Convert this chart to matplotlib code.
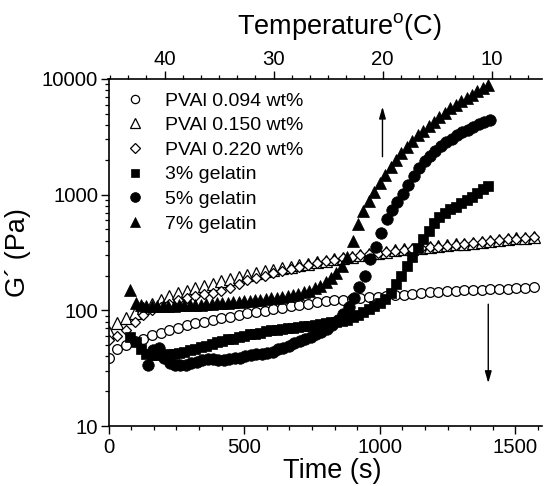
import matplotlib
matplotlib.use('Agg')
import matplotlib.pyplot as plt
from matplotlib.ticker import MultipleLocator, LogLocator, NullFormatter, FixedLocator, FixedFormatter

plt.rcParams['font.family'] = ['Liberation Sans', 'DejaVu Sans']
plt.rcParams['mathtext.fontset'] = 'custom'
plt.rcParams['mathtext.rm'] = 'Liberation Sans'

# ---------------- data ----------------
t_pva = [0, 32, 64, 96, 128, 160, 192, 224, 256, 288,
         320, 352, 384, 416, 448, 480, 512, 544, 576, 608,
         640, 672, 704, 736, 768, 800, 832, 864, 896, 928,
         960, 992, 1024, 1056, 1088, 1120, 1152, 1184, 1216, 1248,
         1280, 1312, 1344, 1376, 1408, 1440, 1472, 1504, 1536, 1568]

g_pva094 = [39, 46, 50, 54, 57, 61, 64, 67, 71, 74,
            77, 80, 82, 85, 88, 91, 95, 97, 99, 102,
            105, 108, 111, 114, 117, 120, 122, 124, 126, 128,
            130, 131, 133, 135, 137, 139, 141, 143, 145, 147,
            148, 149, 150, 151, 152, 153, 154, 155, 157, 158]

g_pva150 = [65, 77, 85, 95, 104, 114, 124, 133, 140, 148,
            155, 162, 170, 178, 186, 195, 203, 210, 217, 224,
            231, 238, 245, 252, 260, 268, 276, 284, 292, 300,
            307, 315, 322, 330, 336, 342, 348, 354, 360, 366,
            372, 377, 383, 390, 397, 404, 411, 418, 424, 430]

g_pva220 = [55, 60, 68, 80, 91, 100, 107, 113, 122, 129,
            133, 138, 142, 147, 156, 170, 183, 192, 200, 209,
            218, 228, 238, 247, 256, 265, 274, 282, 291, 298,
            305, 311, 318, 325, 332, 338, 344, 350, 355, 362,
            368, 374, 380, 387, 395, 402, 410, 417, 424, 430]

t_gel = [80, 100, 120, 140, 160, 180, 200, 220, 240, 260,
         280, 300, 320, 340, 360, 380, 400, 420, 440, 460,
         480, 500, 520, 540, 560, 580, 600, 620, 640, 660,
         680, 700, 720, 740, 760, 780, 800, 820, 840, 860,
         880, 900, 920, 940, 960, 980, 1000, 1020, 1040, 1060,
         1080, 1100, 1120, 1140, 1160, 1180, 1200, 1220, 1240, 1260,
         1280, 1300, 1320, 1340, 1360, 1380, 1400]

g_gel3 = [59, 53, 46, 42, 41, 41, 41, 42, 42, 43,
          44, 45, 46, 48, 49, 51, 53, 54, 56, 57,
          59, 60, 62, 63, 64, 66, 67, 68, 69, 70,
          71, 72, 73, 73, 74, 76, 77, 79, 80, 81,
          83, 87, 91, 96, 102, 108, 115, 125, 142, 168,
          200, 240, 290, 345, 410, 490, 570, 640, 695, 745,
          790, 840, 895, 960, 1035, 1110, 1200]

g_gel7 = [150, 115, 111, 110, 110, 110, 110, 110, 110, 111,
          111, 112, 112, 112, 113, 114, 115, 115, 116, 117,
          119, 120, 121, 122, 123, 125, 127, 129, 131, 133,
          136, 139, 143, 148, 155, 163, 176, 192, 210, 240,
          290, 400, 560, 720, 880, 1060, 1250, 1470, 1730, 1990,
          2270, 2600, 2920, 3250, 3580, 3900, 4260, 4660, 5100, 5560,
          6000, 6440, 6850, 7300, 7800, 8300, 8850]

t_gel5 = [145, 165, 185, 205, 225, 245, 265, 285, 305, 325,
          345, 365, 385, 405, 425, 445, 465, 485, 505, 525,
          545, 565, 585, 605, 625, 645, 665, 685, 705, 725,
          745, 765, 785, 805, 825, 845, 865, 885, 905, 925,
          945, 965, 985, 1005, 1025, 1045, 1065, 1085, 1105, 1125,
          1145, 1165, 1185, 1205, 1225, 1245, 1265, 1285, 1305, 1325,
          1345, 1365, 1385, 1405]

g_gel5 = [34, 45, 47, 39, 35, 34, 34, 34, 35, 36,
          37, 38, 38, 37, 37, 38, 39, 39, 40, 41,
          42, 42, 43, 44, 46, 47, 49, 52, 54, 57,
          59, 62, 65, 69, 75, 82, 93, 107, 128, 160,
          200, 280, 355, 470, 610, 730, 860, 1010, 1220, 1440,
          1700, 1950, 2180, 2400, 2650, 2850, 3050, 3250, 3450, 3650,
          3850, 4050, 4250, 4420]

labels = ['PVAl 0.094 wt%', 'PVAl 0.150 wt%', 'PVAl 0.220 wt%',
          '3% gelatin', '5% gelatin', '7% gelatin']

# arrows: (time, start G', end G')
arrow_up = (1010, 2130, 5760)
arrow_down = (1400, 113, 23.5)

# temperature calibration of the top axis: T = T0 - rate * t
T0 = 45.15
rate = 0.02489
xmax = 1597

x_ticks = [0, 500, 1000, 1500]
y_ticks = [10, 100, 1000, 10000]
T_ticks = [40, 30, 20, 10]

# ---------------- figure ----------------
fig = plt.figure(figsize=(5.45, 4.86), dpi=100)
L, B = 108.5 / 545, 1 - 426 / 486
W, H = (541.7 - 108.5) / 545, (426 - 79) / 486
ax = fig.add_axes([L, B, W, H])

mew = 0.9
ax.plot(t_pva, g_pva094, ls='none', marker='o', ms=7, mfc='white', mec='k', mew=mew, label=labels[0])
ax.plot(t_pva, g_pva150, ls='none', marker='^', ms=8, mfc='white', mec='k', mew=mew, label=labels[1])
ax.plot(t_pva, g_pva220, ls='none', marker='D', ms=5.4, mfc='white', mec='k', mew=mew, label=labels[2])
ax.plot(t_gel, g_gel3, ls='none', marker='s', ms=7, mfc='k', mec='k', mew=0.5, label=labels[3])
ax.plot(t_gel5, g_gel5, ls='none', marker='o', ms=8.3, mfc='k', mec='k', mew=0.5, label=labels[4])
ax.plot(t_gel, g_gel7, ls='none', marker='^', ms=9, mfc='k', mec='k', mew=0.5, label=labels[5])

ax.set_yscale('log')
ax.set_ylim(10, 10000)
ax.set_xlim(0, xmax)

ax.xaxis.set_major_locator(FixedLocator(x_ticks))
ax.xaxis.set_minor_locator(MultipleLocator(500 / 6))
ax.yaxis.set_major_locator(FixedLocator(y_ticks))
ax.yaxis.set_major_formatter(FixedFormatter([str(v) for v in y_ticks]))
ax.yaxis.set_minor_locator(LogLocator(base=10, subs=range(2, 10)))
ax.yaxis.set_minor_formatter(NullFormatter())

for s in ['top', 'right']:
    ax.spines[s].set_visible(False)
for s in ['left', 'bottom']:
    ax.spines[s].set_linewidth(1.2)
ax.tick_params(which='major', direction='out', length=5.5, width=1.0, labelsize=14.7, pad=2)
ax.tick_params(which='minor', direction='out', length=3, width=0.9)
ax.tick_params(axis='x', which='major', pad=3)

ax2 = ax.twiny()
ax2.set_xlim(T0 - rate * 0, T0 - rate * xmax)
ax2.xaxis.set_major_locator(FixedLocator(T_ticks))
ax2.xaxis.set_minor_locator(MultipleLocator(10 / 6))
for s in ['bottom', 'left', 'right']:
    ax2.spines[s].set_visible(False)
ax2.spines['top'].set_linewidth(1.2)
ax2.tick_params(which='major', direction='out', length=5.5, width=1.0, labelsize=14.7, pad=2)
ax2.tick_params(which='minor', direction='out', length=3, width=0.9)

# arrows
ax.annotate('', xy=(arrow_up[0], arrow_up[2]), xytext=(arrow_up[0], arrow_up[1]),
            arrowprops=dict(arrowstyle='-|>,head_length=0.7,head_width=0.2', color='k', lw=1.0,
                            shrinkA=0, shrinkB=0, mutation_scale=10))
ax.annotate('', xy=(arrow_down[0], arrow_down[2]), xytext=(arrow_down[0], arrow_down[1]),
            arrowprops=dict(arrowstyle='-|>,head_length=0.7,head_width=0.2', color='k', lw=1.0,
                            shrinkA=0, shrinkB=0, mutation_scale=10))

leg = ax.legend(loc='upper left', bbox_to_anchor=((125.3 - 108.5) / 433.2, (426 - 92) / 347),
                frameon=False, fontsize=14, handlelength=1.0, handletextpad=1.05,
                labelspacing=0.36, borderpad=0, borderaxespad=0, markerscale=0.85)

fig.text(332.6 / 545, 1 - 471 / 486, 'Time (s)', fontsize=19.5, ha='center', va='center')
fig.text(18 / 545, 1 - 253 / 486, 'G\u00b4 (Pa)', fontsize=19.5, ha='center', va='center', rotation=90)
fig.text(339 / 545, 1 - 27 / 486, r'Temperature$^{\mathrm{o}}$(C)', fontsize=19.5, ha='center', va='center')

fig.savefig('out.png', dpi=100)
